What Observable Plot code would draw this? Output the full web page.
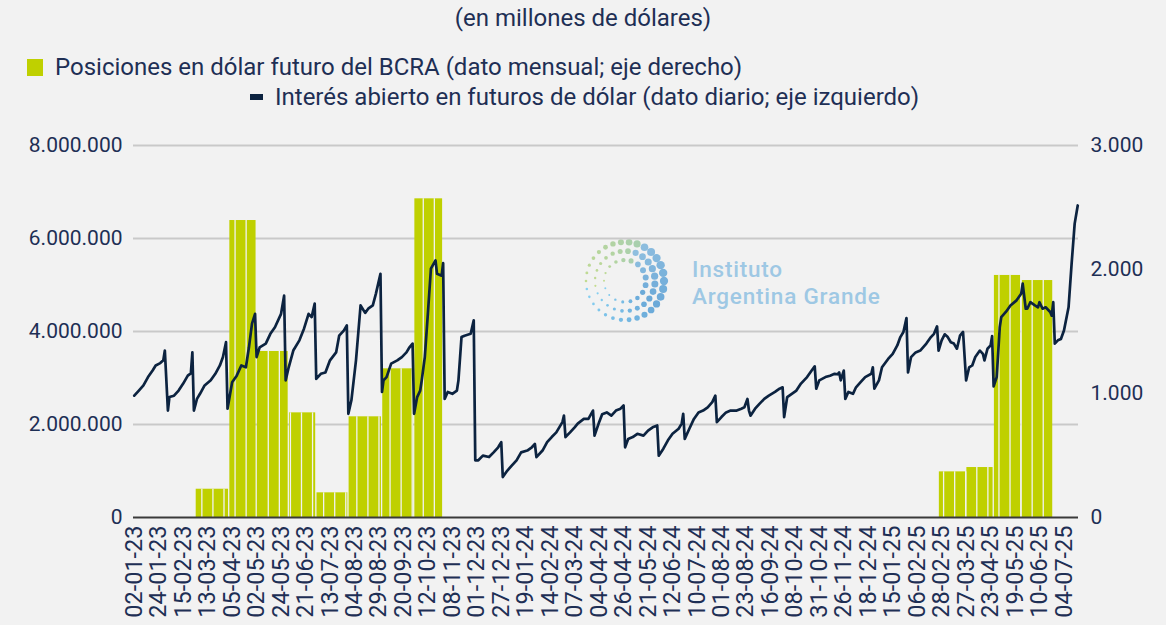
<!DOCTYPE html>
<html><head><meta charset="utf-8">
<script src="https://cdn.jsdelivr.net/npm/d3@7"></script>
<script src="https://cdn.jsdelivr.net/npm/@observablehq/plot@0.6"></script>
<style>
html,body{margin:0;padding:0;background:#f2f2f2;}
body{width:1166px;height:625px;position:relative;overflow:hidden;font-family:Roboto,sans-serif;color:#1e2f55;}
#title{position:absolute;top:1px;left:0;width:1166px;text-align:center;font-size:24px;line-height:34px;}
.leg{position:absolute;font-size:24px;line-height:30px;white-space:nowrap;display:flex;align-items:center;}
.sw{display:inline-block;margin-right:12px;}
#logo{position:absolute;left:0;top:0;}
#chart{position:absolute;left:0;top:120px;}
</style></head><body>
<svg id="logo" width="1166" height="625"></svg>
<div id="title">(en millones de dólares)</div>
<div class="leg" style="left:27px;top:52px"><span class="sw" style="width:16px;height:17px;background:#bfd000"></span>Posiciones en dólar futuro del BCRA (dato mensual; eje derecho)</div>
<div class="leg" style="left:250px;top:82px"><span class="sw" style="width:13px;height:6px;background:#0c2340"></span>Interés abierto en futuros de dólar (dato diario; eje izquierdo)</div>
<div id="chart"></div>
<script>
// ---- x-axis tick labels (one label every 16 trading days) ----
const tickLabels = ["02-01-23","24-01-23","15-02-23","13-03-23","05-04-23","02-05-23","24-05-23","21-06-23","13-07-23","04-08-23","29-08-23","20-09-23","12-10-23","08-11-23","01-12-23","27-12-23","19-01-24","14-02-24","07-03-24","04-04-24","26-04-24","21-05-24","12-06-24","10-07-24","01-08-24","23-08-24","16-09-24","08-10-24","31-10-24","26-11-24","18-12-24","15-01-25","06-02-25","28-02-25","27-03-25","23-04-25","19-05-25","10-06-25","04-07-25"];
const tickStep = 16;          // trading days between labels
const nDays = 618;            // trading days on the axis

// ---- daily open interest (left axis): trading-day index, value ----
const lineDay = [0,3,6,9,12,14,17,19,20,22,23,26,29,32,35,37,38,39,41,43,46,50,53,56,58,60,61,64,67,70,73,75,77,79,80,82,86,89,92,96,98,99,101,104,108,111,114,116,118,119,122,125,128,132,134,137,139,140,142,145,148,151,153,156,158,161,162,163,165,168,172,175,178,180,182,183,185,187,188,190,192,194,197,198,201,202,203,205,208,211,212,214,216,220,222,223,225,228,232,235,238,240,241,244,247,250,253,257,260,262,263,267,270,273,276,280,281,282,285,288,290,294,297,300,301,304,306,309,312,315,318,320,321,323,326,329,333,336,339,342,343,346,349,352,356,358,359,360,363,366,369,372,375,378,380,381,384,387,390,394,397,399,401,402,403,406,409,412,415,419,422,424,425,427,430,433,436,440,443,445,446,448,452,455,458,460,461,462,464,465,467,470,472,475,478,482,483,484,487,489,493,496,499,501,503,505,506,508,511,514,518,521,523,525,526,528,530,532,534,536,538,540,542,544,546,548,550,553,555,556,558,560,561,562,564,566,567,570,573,577,580,581,583,584,586,589,591,592,594,596,599,600,601,602,604,606,608,611,613,615,617];
const lineValue = [2620000,2730000,2840000,3020000,3160000,3270000,3320000,3380000,3590000,2300000,2590000,2620000,2730000,2880000,3050000,3100000,3550000,2300000,2550000,2660000,2840000,2950000,3090000,3270000,3450000,3770000,2340000,2910000,3050000,3270000,3230000,3660000,4170000,4380000,3450000,3660000,3740000,3950000,4090000,4380000,4770000,2950000,3230000,3590000,3810000,4060000,4380000,4310000,4600000,2980000,3090000,3120000,3380000,3550000,3910000,4020000,4130000,2230000,2520000,3380000,4560000,4400000,4490000,4560000,4810000,5240000,2700000,2950000,3020000,3310000,3380000,3450000,3550000,3660000,3740000,2230000,2590000,2730000,2950000,3450000,4380000,5350000,5530000,5240000,5200000,5470000,2550000,2700000,2660000,2730000,2950000,3880000,3910000,3950000,4240000,1230000,1230000,1330000,1300000,1400000,1510000,1620000,870000,1010000,1120000,1230000,1400000,1440000,1510000,1580000,1300000,1440000,1620000,1730000,1830000,2050000,2190000,1730000,1830000,1940000,2020000,2120000,2120000,2300000,1760000,2050000,2220000,2260000,2190000,2300000,2340000,2410000,1510000,1690000,1730000,1800000,1760000,1870000,1940000,1980000,1330000,1480000,1660000,1800000,1910000,2020000,2230000,1690000,1910000,2120000,2260000,2300000,2370000,2480000,2620000,2050000,2160000,2260000,2300000,2300000,2340000,2370000,2550000,2300000,2190000,2340000,2450000,2550000,2620000,2700000,2770000,2800000,2160000,2590000,2660000,2730000,2880000,3020000,3160000,3250000,2770000,2950000,3020000,3050000,3090000,3080000,3120000,2950000,3160000,2550000,2700000,2660000,2800000,2910000,3020000,3090000,3230000,2770000,2950000,3230000,3410000,3520000,3700000,3880000,3990000,4290000,3120000,3450000,3550000,3590000,3740000,3880000,3950000,4110000,3590000,3810000,3940000,3880000,3770000,3740000,3630000,3910000,3990000,2950000,3230000,3270000,3450000,3590000,3520000,3380000,3630000,3700000,3900000,2820000,3020000,4090000,4310000,4420000,4560000,4670000,4810000,5030000,4490000,4490000,4630000,4560000,4520000,4630000,4490000,4520000,4420000,4340000,4630000,3740000,3810000,3840000,4020000,4520000,5460000,6320000,6710000];

// ---- monthly BCRA futures positions (right axis) ----
const barMonth = ["mar-23","abr-23","may-23","jun-23","jul-23","ago-23","sep-23","oct-23","mar-25","abr-25","may-25","jun-25"];
const barStart = [41,63,81,102,120,141,163,184,527,545,563,581];   // first trading day
const barEnd   = [63,81,102,120,141,163,184,203,545,563,581,602];  // day after last
const barValue = [228,2395,1339,844,199,812,1199,2570,368,403,1952,1911];

const leftTicks = [0,2000000,4000000,6000000,8000000];
const rightTicks = [0,1000,2000,3000];

// column-stripe pattern seen in the original bars (one thin gap every ~7.24 days)
const stripePhase = 44.2, stripeStep = 7.24;

const K = 8000000 / 3000;
const fmt = d3.formatLocale({decimal: ",", thousands: ".", grouping: [3], currency: ["$", ""]}).format(",.0f");

const lineData = lineDay.map((d, i) => ({day: d, value: lineValue[i]}));
const barData = barMonth.map((m, i) => ({month: m, x1: barStart[i] - 0.5, x2: barEnd[i] - 0.5, y: barValue[i] * K}));
const stripes = [];
for (let p = stripePhase; p < nDays; p += stripeStep) {
  const b = barData.find(b => p > b.x1 + 0.5 && p < b.x2 - 0.5);
  if (b) stripes.push({x: p, y: b.y});
}

const navy = "#0c2340", green = "#bfd000", txt = "#1e2f55";

const chart = Plot.plot({
  width: 1166, height: 505,
  marginTop: 25, marginBottom: 108, marginLeft: 133, marginRight: 88,
  style: {background: "transparent", fontFamily: "Roboto, sans-serif", fontSize: "21px", color: txt},
  x: {type: "linear", domain: [-0.5, nDays - 0.5]},
  y: {domain: [0, 8000000]},
  marks: [
    Plot.gridY(leftTicks.slice(1), {stroke: "#c9c9c9", strokeOpacity: 1, strokeWidth: 2}),
    Plot.rectY(barData, {x1: "x1", x2: "x2", y1: 0, y2: "y", fill: green, insetRight: 1.3}),
    Plot.ruleX(stripes, {x: "x", y1: 0, y2: "y", stroke: "#f2f2f2", strokeWidth: 1.3}),
    Plot.ruleY([0], {stroke: "#3a3a3a", strokeWidth: 2}),
    Plot.line(lineData, {x: "day", y: "value", stroke: navy, strokeWidth: 2.7, strokeLinejoin: "round"}),
    Plot.axisY(leftTicks, {anchor: "left", tickSize: 0, tickPadding: 11, tickFormat: fmt, label: null, fontSize: 21}),
    Plot.axisY(rightTicks.map(v => v * K), {anchor: "right", tickSize: 0, tickPadding: 12, tickFormat: d => fmt(d / K), label: null, fontSize: 21}),
    Plot.axisX(tickLabels.map((l, i) => i * tickStep), {anchor: "bottom", tickSize: 0, tickPadding: 8, tickRotate: -90, fontSize: 23.5, tickFormat: d => tickLabels[Math.round(d / tickStep)], label: null})
  ]
});
document.getElementById("chart").appendChild(chart);

// ---- watermark logo ----
const ns = "http://www.w3.org/2000/svg";
const logo = document.getElementById("logo");
const cx = 625, cy = 281;
const rings = [{r: 39, n: 30, s: 4.2}, {r: 30, n: 24, s: 3.6}, {r: 21, n: 17, s: 3.0}];
const cGreen = d3.color("#c4dc8e"), cBlue = d3.color("#6aa8d8"), cCyan = d3.color("#88d3f3");
rings.forEach((ring, ri) => {
  for (let k = 0; k < ring.n; k++) {
    const a = (k / ring.n) * 2 * Math.PI + ri * 0.1;
    const deg = (a * 180 / Math.PI) % 360;
    const size = ring.s * (0.3 + 0.7 * (1 + Math.cos(a + 0.3)) / 2);
    let col;
    if (deg >= 170 && deg < 290) col = d3.interpolateRgb(cGreen, "#a9cfae")((deg - 170) / 120);
    else if (deg >= 290 || deg < 40) col = d3.interpolateRgb("#8fbfdf", cBlue)(deg >= 290 ? (deg - 290) / 110 : (deg + 70) / 110);
    else col = d3.interpolateRgb(cBlue, cCyan)((deg - 40) / 130);
    const c = document.createElementNS(ns, "circle");
    c.setAttribute("cx", cx + ring.r * Math.cos(a));
    c.setAttribute("cy", cy + ring.r * Math.sin(a));
    c.setAttribute("r", Math.max(1, size));
    c.setAttribute("fill", col.toString());
    logo.appendChild(c);
  }
});
[["Instituto", 277], ["Argentina Grande", 304]].forEach(([t, y]) => {
  const e = document.createElementNS(ns, "text");
  e.setAttribute("x", 692); e.setAttribute("y", y);
  e.setAttribute("fill", "#9ec8e4");
  e.setAttribute("font-family", "Roboto, sans-serif");
  e.setAttribute("font-weight", "500");
  e.setAttribute("letter-spacing", "0.8px");
  e.setAttribute("font-size", "22.5px");
  e.textContent = t;
  logo.appendChild(e);
});
</script>
</body></html>
